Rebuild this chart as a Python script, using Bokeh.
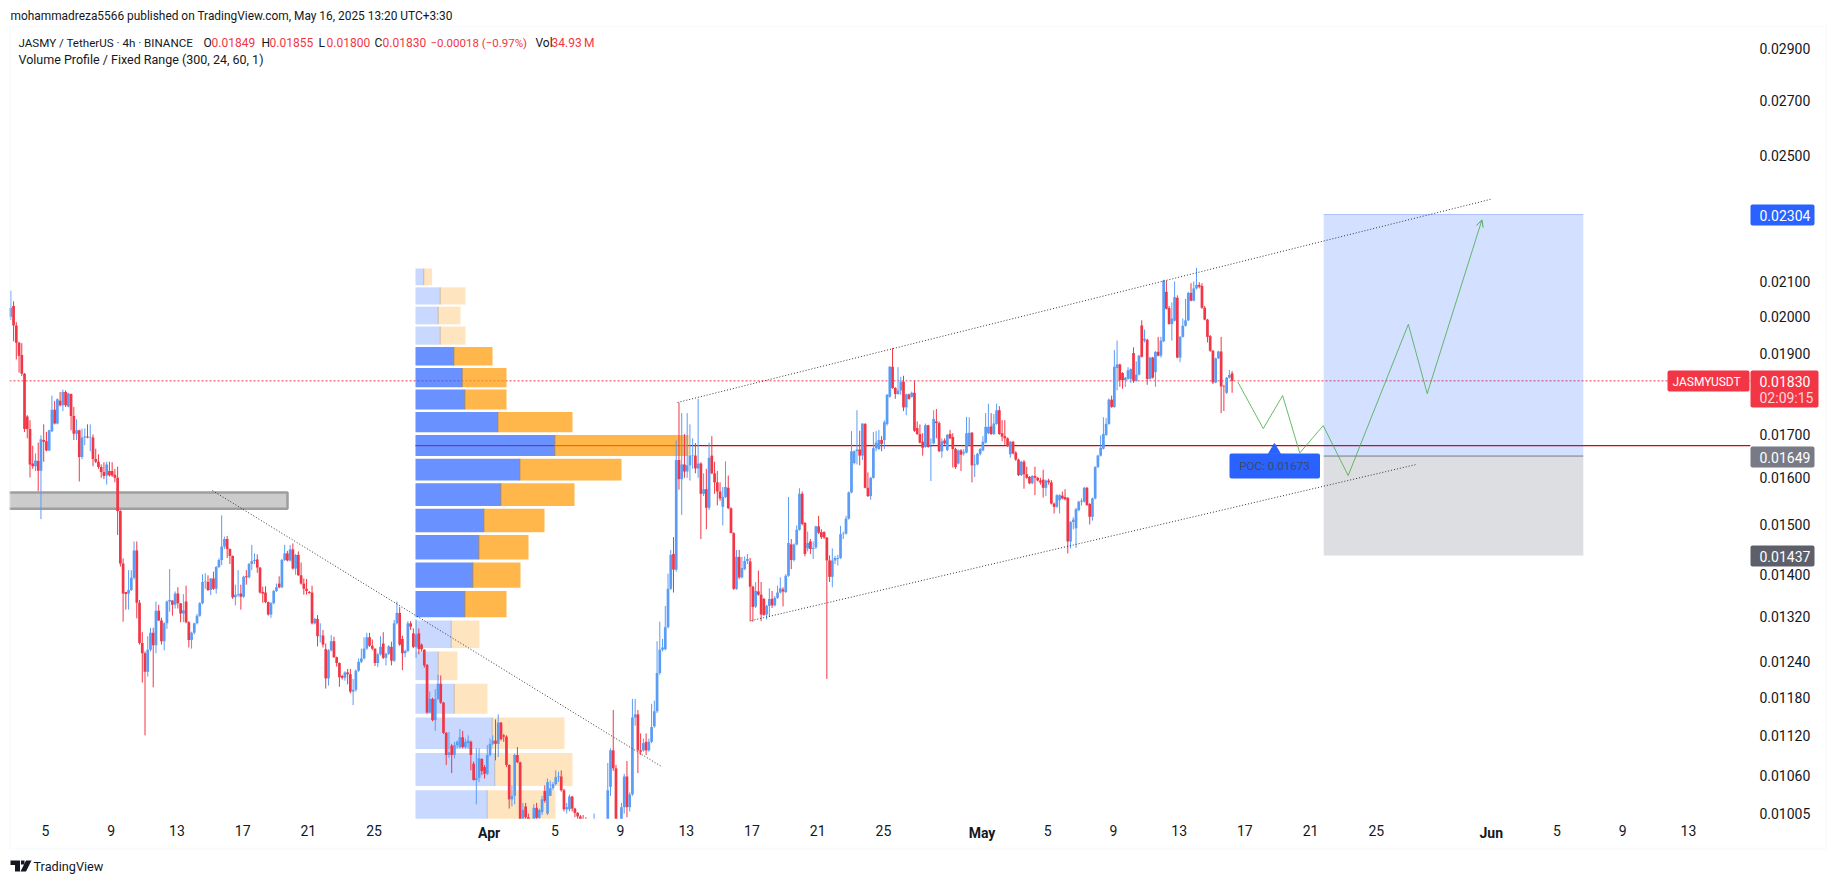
import numpy as np
from bokeh.embed import file_html
from bokeh.resources import INLINE
from bokeh.plotting import figure
from bokeh.models import (Arrow, BoxAnnotation, FixedTicker, Label, OpenHead, PolyAnnotation,
                          PrintfTickFormatter, Range1d)

# candles, 4h bars, prices in 1e-5 USDT
opens = [
    2000, 2030, 1976, 1929, 1897, 1848, 1742, 1712, 1632, 1626,
    1638, 1616, 1686, 1683, 1662, 1706, 1758, 1725, 1780, 1769,
    1802, 1766, 1797, 1743, 1701, 1709, 1647, 1692, 1694, 1692,
    1692, 1642, 1636, 1624, 1613, 1605, 1615, 1615, 1607, 1600,
    1528, 1421, 1366, 1363, 1370, 1393, 1447, 1346, 1273, 1255,
    1223, 1261, 1291, 1269, 1331, 1313, 1276, 1308, 1348, 1350,
    1342, 1363, 1345, 1326, 1348, 1310, 1278, 1291, 1308, 1322,
    1345, 1385, 1385, 1370, 1392, 1372, 1414, 1428, 1455, 1470,
    1450, 1436, 1356, 1361, 1363, 1357, 1396, 1394, 1420, 1426,
    1429, 1413, 1366, 1365, 1347, 1324, 1345, 1368, 1382, 1375,
    1428, 1441, 1427, 1449, 1411, 1438, 1398, 1382, 1372, 1366,
    1365, 1308, 1316, 1285, 1286, 1262, 1212, 1260, 1276, 1248,
    1238, 1216, 1213, 1222, 1219, 1190, 1193, 1225, 1240, 1246,
    1263, 1283, 1268, 1263, 1238, 1253, 1272, 1247, 1254, 1266,
    1242, 1308, 1327, 1280, 1255, 1259, 1308, 1290, 1266, 1290,
    1270, 1261, 1235, 1156, 1178, 1144, 1178, 1203, 1172, 1124,
    1090, 1104, 1090, 1105, 1102, 1117, 1102, 1108, 1110, 1077,
    1053, 1056, 1084, 1072, 1062, 1090, 1107, 1112, 1107, 1140,
    1120, 1118, 1075, 1025, 1030, 1090, 1079, 985, 1015, 1000,
    990, 995, 1013, 999, 1007, 1037, 1005, 1030, 1041, 1047,
    1057, 1058, 1038, 1011, 1011, 1029, 1012, 1006, 1001, 990,
    985, 970, 950, 930, 975, 950, 965, 940, 980, 1043,
    1097, 1070, 960, 980, 1014, 1058, 1014, 1032, 1148, 1153,
    1097, 1097, 1110, 1097, 1110, 1134, 1158, 1221, 1261, 1262,
    1301, 1372, 1440, 1409, 1640, 1597, 1630, 1614, 1628, 1650,
    1650, 1621, 1632, 1565, 1575, 1535, 1650, 1610, 1590, 1570,
    1537, 1558, 1578, 1534, 1482, 1372, 1434, 1394, 1410, 1426,
    1425, 1376, 1339, 1367, 1361, 1353, 1324, 1340, 1353, 1341,
    1355, 1365, 1371, 1366, 1397, 1459, 1428, 1459, 1489, 1565,
    1503, 1451, 1465, 1450, 1453, 1496, 1484, 1484, 1473, 1427,
    1395, 1427, 1430, 1432, 1480, 1481, 1512, 1568, 1633, 1660,
    1664, 1650, 1724, 1578, 1560, 1600, 1667, 1665, 1686, 1686,
    1724, 1790, 1866, 1812, 1797, 1806, 1828, 1764, 1796, 1790,
    1800, 1714, 1700, 1682, 1670, 1721, 1670, 1678, 1730, 1726,
    1660, 1685, 1663, 1700, 1693, 1665, 1632, 1662, 1655, 1657,
    1675, 1703, 1628, 1630, 1654, 1662, 1680, 1702, 1718, 1700,
    1724, 1757, 1702, 1695, 1690, 1653, 1682, 1657, 1641, 1606,
    1636, 1608, 1602, 1588, 1604, 1600, 1594, 1596, 1578, 1594,
    1590, 1544, 1537, 1551, 1561, 1558, 1556, 1465, 1505, 1492,
    1530, 1548, 1548, 1578, 1543, 1516, 1555, 1624, 1650, 1666,
    1698, 1724, 1783, 1765, 1863, 1872, 1850, 1832, 1835, 1835,
    1902, 1830, 1846, 1976, 1935, 1937, 1835, 1890, 1852, 1905,
    1895, 1933, 2070, 2024, 1980, 1989, 2053, 1890, 1945, 1975,
    1990, 2067, 2045, 2080, 2090, 2087, 2025, 1992, 1947, 1908,
    1826, 1888, 1906, 1816, 1800, 1838, 1849,
]
closes = [
    2025, 1976, 1929, 1895, 1848, 1712, 1712, 1630, 1626, 1639,
    1616, 1688, 1682, 1662, 1709, 1758, 1725, 1784, 1769, 1802,
    1769, 1798, 1743, 1701, 1709, 1647, 1692, 1694, 1692, 1693,
    1642, 1636, 1624, 1613, 1604, 1630, 1606, 1605, 1600, 1528,
    1421, 1363, 1362, 1370, 1393, 1447, 1346, 1273, 1255, 1223,
    1261, 1291, 1269, 1331, 1313, 1276, 1308, 1348, 1351, 1342,
    1363, 1345, 1326, 1332, 1310, 1278, 1291, 1308, 1322, 1345,
    1385, 1386, 1370, 1392, 1372, 1414, 1428, 1455, 1470, 1450,
    1436, 1356, 1361, 1362, 1357, 1395, 1394, 1420, 1426, 1428,
    1413, 1365, 1363, 1347, 1324, 1345, 1368, 1375, 1375, 1428,
    1441, 1427, 1449, 1411, 1438, 1398, 1382, 1372, 1368, 1364,
    1308, 1316, 1285, 1286, 1270, 1212, 1260, 1276, 1248, 1238,
    1214, 1213, 1222, 1219, 1190, 1193, 1225, 1240, 1246, 1263,
    1283, 1268, 1263, 1238, 1253, 1266, 1247, 1254, 1267, 1242,
    1308, 1327, 1270, 1255, 1259, 1308, 1302, 1266, 1288, 1262,
    1262, 1234, 1156, 1178, 1144, 1178, 1203, 1172, 1124, 1090,
    1094, 1090, 1105, 1110, 1117, 1102, 1110, 1112, 1090, 1053,
    1056, 1085, 1066, 1062, 1090, 1107, 1112, 1107, 1140, 1114,
    1118, 1075, 1025, 1030, 1090, 1079, 985, 1010, 1000, 990,
    975, 1013, 999, 1010, 1025, 1023, 1050, 1041, 1047, 1057,
    1058, 1038, 1011, 1014, 1029, 1012, 1006, 1001, 990, 985,
    970, 950, 930, 975, 950, 965, 940, 980, 1038, 1097,
    1070, 960, 980, 1014, 1058, 1014, 1032, 1148, 1153, 1097,
    1095, 1108, 1097, 1110, 1133, 1158, 1221, 1261, 1265, 1301,
    1372, 1438, 1409, 1640, 1597, 1630, 1614, 1628, 1650, 1651,
    1621, 1632, 1565, 1575, 1535, 1645, 1610, 1590, 1570, 1555,
    1558, 1580, 1534, 1482, 1372, 1434, 1394, 1412, 1426, 1430,
    1376, 1338, 1368, 1361, 1324, 1323, 1340, 1353, 1341, 1355,
    1365, 1373, 1367, 1397, 1462, 1428, 1459, 1489, 1565, 1501,
    1440, 1462, 1450, 1452, 1496, 1483, 1474, 1473, 1427, 1395,
    1427, 1432, 1432, 1480, 1481, 1512, 1568, 1660, 1660, 1664,
    1650, 1725, 1578, 1560, 1600, 1667, 1680, 1686, 1677, 1728,
    1795, 1866, 1812, 1797, 1806, 1828, 1764, 1796, 1785, 1800,
    1708, 1700, 1680, 1668, 1721, 1670, 1672, 1736, 1726, 1660,
    1683, 1678, 1698, 1690, 1665, 1624, 1662, 1652, 1658, 1702,
    1703, 1628, 1630, 1654, 1665, 1682, 1717, 1717, 1700, 1725,
    1757, 1700, 1694, 1690, 1672, 1682, 1655, 1641, 1606, 1636,
    1608, 1600, 1588, 1604, 1600, 1594, 1590, 1578, 1594, 1590,
    1544, 1537, 1562, 1562, 1555, 1553, 1465, 1505, 1510, 1532,
    1548, 1550, 1578, 1541, 1516, 1555, 1624, 1650, 1668, 1700,
    1724, 1783, 1765, 1866, 1872, 1832, 1832, 1838, 1857, 1860,
    1830, 1846, 1895, 1892, 1940, 1835, 1890, 1838, 1905, 1895,
    1935, 2103, 2022, 1980, 1995, 2055, 1890, 1945, 1975, 1990,
    2067, 2045, 2080, 2090, 2085, 2025, 1992, 1945, 1908, 1826,
    1888, 1906, 1816, 1815, 1838, 1845, 1830,
]
highs = [
    2073, 2043, 1985, 1932, 1928, 1850, 1745, 1733, 1673, 1655,
    1680, 1697, 1723, 1705, 1710, 1793, 1780, 1786, 1802, 1808,
    1806, 1800, 1798, 1765, 1735, 1710, 1713, 1713, 1723, 1723,
    1699, 1666, 1653, 1630, 1635, 1636, 1636, 1635, 1620, 1625,
    1530, 1431, 1366, 1408, 1408, 1465, 1465, 1351, 1292, 1258,
    1285, 1300, 1300, 1348, 1342, 1318, 1310, 1350, 1410, 1350,
    1367, 1375, 1345, 1362, 1378, 1312, 1293, 1309, 1325, 1347,
    1400, 1402, 1398, 1393, 1405, 1416, 1431, 1519, 1475, 1476,
    1451, 1437, 1380, 1408, 1380, 1397, 1408, 1422, 1458, 1441,
    1439, 1414, 1376, 1377, 1348, 1347, 1370, 1382, 1396, 1430,
    1458, 1446, 1458, 1461, 1440, 1445, 1423, 1392, 1391, 1368,
    1378, 1318, 1323, 1308, 1296, 1272, 1262, 1287, 1284, 1249,
    1239, 1218, 1224, 1228, 1228, 1211, 1227, 1246, 1263, 1283,
    1291, 1291, 1279, 1263, 1255, 1285, 1292, 1256, 1269, 1275,
    1314, 1348, 1338, 1286, 1261, 1312, 1312, 1299, 1315, 1299,
    1272, 1262, 1236, 1190, 1180, 1194, 1218, 1217, 1173, 1125,
    1125, 1107, 1110, 1112, 1130, 1127, 1115, 1120, 1112, 1080,
    1100, 1100, 1085, 1075, 1105, 1115, 1120, 1145, 1153, 1141,
    1122, 1120, 1076, 1045, 1092, 1102, 1080, 1020, 1020, 1005,
    995, 1018, 1020, 1012, 1030, 1045, 1055, 1052, 1050, 1067,
    1065, 1067, 1040, 1020, 1032, 1030, 1013, 1007, 1003, 1003,
    1000, 985, 975, 1005, 985, 990, 985, 992, 1078, 1100,
    1160, 1075, 990, 1020, 1062, 1081, 1035, 1178, 1178, 1160,
    1123, 1115, 1123, 1115, 1170, 1175, 1276, 1311, 1280, 1340,
    1401, 1448, 1474, 1685, 1776, 1750, 1700, 1750, 1723, 1690,
    1679, 1785, 1635, 1610, 1620, 1680, 1695, 1636, 1615, 1590,
    1580, 1637, 1605, 1536, 1484, 1448, 1448, 1434, 1435, 1440,
    1432, 1378, 1385, 1407, 1385, 1355, 1342, 1373, 1368, 1358,
    1378, 1394, 1375, 1400, 1558, 1470, 1461, 1498, 1577, 1570,
    1505, 1485, 1470, 1465, 1497, 1518, 1490, 1486, 1474, 1437,
    1451, 1436, 1438, 1497, 1485, 1518, 1570, 1707, 1662, 1757,
    1708, 1725, 1726, 1612, 1602, 1705, 1707, 1710, 1695, 1733,
    1797, 1868, 1915, 1814, 1865, 1840, 1843, 1798, 1798, 1803,
    1830, 1730, 1723, 1702, 1725, 1722, 1690, 1757, 1760, 1730,
    1690, 1690, 1700, 1710, 1702, 1668, 1664, 1665, 1665, 1741,
    1740, 1705, 1652, 1656, 1668, 1695, 1750, 1773, 1750, 1748,
    1773, 1767, 1733, 1733, 1692, 1684, 1684, 1660, 1643, 1638,
    1640, 1625, 1604, 1606, 1625, 1602, 1600, 1618, 1596, 1598,
    1595, 1546, 1564, 1564, 1570, 1575, 1558, 1507, 1515, 1535,
    1550, 1555, 1580, 1580, 1545, 1557, 1626, 1652, 1697, 1740,
    1738, 1786, 1793, 1910, 1935, 1874, 1852, 1840, 1865, 1862,
    1917, 1880, 1897, 1990, 1965, 1940, 1892, 1892, 1907, 1945,
    1945, 2105, 2103, 2030, 2040, 2100, 2060, 1947, 1995, 2050,
    2070, 2095, 2100, 2140, 2098, 2095, 2030, 1994, 1950, 1910,
    1890, 1908, 1945, 1820, 1840, 1858, 1855,
]
lows = [
    1991, 1933, 1885, 1851, 1842, 1705, 1690, 1601, 1620, 1615,
    1571, 1511, 1636, 1660, 1660, 1706, 1723, 1723, 1766, 1755,
    1765, 1764, 1709, 1686, 1686, 1592, 1642, 1674, 1690, 1660,
    1626, 1633, 1620, 1600, 1597, 1585, 1603, 1602, 1590, 1478,
    1415, 1311, 1333, 1333, 1368, 1390, 1317, 1270, 1205, 1120,
    1215, 1258, 1197, 1255, 1312, 1270, 1260, 1298, 1329, 1322,
    1335, 1335, 1310, 1310, 1308, 1265, 1263, 1288, 1306, 1320,
    1343, 1372, 1368, 1360, 1370, 1363, 1412, 1418, 1450, 1432,
    1420, 1353, 1341, 1357, 1333, 1355, 1380, 1392, 1408, 1420,
    1403, 1363, 1346, 1345, 1322, 1318, 1343, 1366, 1373, 1373,
    1426, 1425, 1425, 1409, 1399, 1397, 1380, 1361, 1361, 1363,
    1306, 1306, 1267, 1274, 1265, 1195, 1200, 1258, 1247, 1232,
    1198, 1210, 1208, 1202, 1187, 1168, 1190, 1223, 1238, 1244,
    1261, 1266, 1260, 1233, 1231, 1251, 1245, 1234, 1252, 1234,
    1240, 1306, 1268, 1226, 1248, 1257, 1296, 1264, 1247, 1253,
    1258, 1230, 1154, 1155, 1142, 1127, 1176, 1170, 1122, 1075,
    1086, 1063, 1085, 1100, 1100, 1100, 1100, 1100, 1067, 1052,
    1018, 1050, 1060, 1055, 1060, 1088, 1105, 1082, 1087, 1112,
    1110, 1072, 1012, 1015, 1018, 1078, 960, 980, 990, 975,
    965, 990, 985, 995, 1003, 1020, 1003, 1030, 1038, 1045,
    1050, 1036, 1008, 1005, 1008, 1008, 1000, 995, 985, 960,
    940, 930, 910, 920, 930, 945, 920, 930, 970, 1030,
    1066, 950, 940, 975, 1005, 1000, 1008, 1030, 1135, 1063,
    1090, 1095, 1090, 1095, 1108, 1132, 1155, 1218, 1258, 1260,
    1299, 1370, 1365, 1405, 1574, 1520, 1600, 1600, 1594, 1620,
    1610, 1600, 1470, 1560, 1490, 1530, 1608, 1565, 1540, 1550,
    1498, 1556, 1532, 1483, 1370, 1370, 1391, 1392, 1408, 1420,
    1311, 1311, 1336, 1359, 1312, 1322, 1315, 1320, 1336, 1339,
    1353, 1363, 1339, 1364, 1395, 1410, 1425, 1457, 1487, 1498,
    1435, 1445, 1440, 1430, 1450, 1480, 1470, 1470, 1211, 1385,
    1375, 1420, 1417, 1430, 1470, 1479, 1510, 1566, 1630, 1630,
    1628, 1640, 1577, 1558, 1552, 1598, 1660, 1663, 1660, 1665,
    1720, 1788, 1810, 1785, 1795, 1795, 1755, 1745, 1783, 1788,
    1705, 1698, 1678, 1650, 1668, 1668, 1593, 1676, 1690, 1658,
    1645, 1675, 1660, 1688, 1623, 1620, 1630, 1615, 1650, 1655,
    1673, 1590, 1602, 1628, 1650, 1660, 1678, 1700, 1698, 1698,
    1722, 1698, 1683, 1675, 1670, 1645, 1653, 1638, 1604, 1604,
    1576, 1598, 1586, 1586, 1562, 1592, 1585, 1557, 1560, 1585,
    1542, 1523, 1535, 1523, 1553, 1551, 1441, 1451, 1490, 1452,
    1528, 1540, 1546, 1539, 1500, 1508, 1553, 1622, 1648, 1664,
    1696, 1722, 1763, 1763, 1806, 1815, 1810, 1815, 1833, 1825,
    1825, 1828, 1844, 1890, 1930, 1820, 1833, 1836, 1815, 1893,
    1890, 1931, 2020, 1978, 1935, 1987, 1888, 1878, 1943, 1973,
    1988, 2043, 2043, 2077, 2080, 2022, 1990, 1930, 1905, 1822,
    1824, 1886, 1750, 1755, 1797, 1836, 1800,
]

# volume profile rows, price edges in 1e-5 USDT, volumes in px-like units
vp_top = [2138, 2083, 2028, 1973, 1918, 1863, 1808, 1753, 1698, 1643, 1588,
          1533, 1478, 1423, 1368, 1313, 1258, 1203, 1148, 1093, 1038]
vp_bottom = [2089, 2034, 1979, 1924, 1869, 1814, 1759, 1704, 1649, 1594, 1539,
             1484, 1429, 1374, 1319, 1264, 1209, 1154, 1099, 1044, 989]
vp_up = [8.3, 24.7, 22.7, 24.7, 38.3, 46.7, 49.3, 82.3, 139.3, 104.3, 85.3,
         68.3, 63.3, 57.3, 49.3, 35.7, 22.7, 38.7, 76.7, 79.3, 71.7]
vp_down = [8.3, 25.3, 22.3, 25.3, 38.7, 44.3, 41.7, 74.7, 133.7, 101.7, 73.7,
           60.7, 49.7, 47.7, 41.7, 28.3, 19.3, 33.3, 72.3, 77.7, 68.3]
vp_in_value_area = [0, 0, 0, 0, 1, 1, 1, 1, 1, 1, 1, 1, 1, 1, 1, 0, 0, 0, 0, 0, 0]

# x axis is days counted from Mar 0, so Apr 1 = 32, May 1 = 62, Jun 1 = 93
tick_days = [5, 9, 13, 17, 21, 25, 36, 40, 44, 48, 52, 56, 66, 70, 74, 78, 82, 86, 97, 101, 105]
tick_labels = ["5", "9", "13", "17", "21", "25", "5", "9", "13", "17", "21", "25",
               "5", "9", "13", "17", "21", "25", "5", "9", "13"]
month_days = [32, 62, 93]
month_labels = ["Apr", "May", "Jun"]
price_ticks = [0.029, 0.027, 0.025, 0.021, 0.020, 0.019, 0.017, 0.016, 0.015, 0.014,
               0.0132, 0.0124, 0.0118, 0.0112, 0.0106, 0.01005]

last_price = 0.0183
poc_price = 0.01673
target_price = 0.02304
entry_price = 0.01649
stop_price = 0.01437

# drawings: (days, prices)
upper_x, upper_y = [43.47, 92.95], [0.01776, 0.02353]
lower_x, lower_y = [47.97, 88.45], [0.01313, 0.0163]
down_x, down_y = [15.16, 42.49], [0.01572, 0.010727]
path_x = [77.57, 79.12, 80.30, 81.34, 82.77, 84.29, 87.95, 89.10, 92.43]
path_y = [0.01827, 0.01713, 0.01793, 0.01656, 0.0172, 0.01605, 0.01979, 0.01798, 0.02287]

UP = "#5b9cf6"
DOWN = "#f23645"
TEXT = "#131722"
FONT = "Roboto"

# the frame fills the whole canvas so that labels outside the price pane are not clipped,
# the axes are pinned at the right and bottom edge of the pane
PANE_LEFT_DAY, PANE_RIGHT_DAY = 2.81, 108.77
PANE_BOTTOM_PRICE = 0.00998

bar_x = 2.89 + np.arange(len(closes)) / 6
o = np.array(opens) / 1e5
c = np.array(closes) / 1e5
h = np.array(highs) / 1e5
l = np.array(lows) / 1e5
bar_colors = [UP if b >= a else DOWN for a, b in zip(opens, closes)]

p = figure(width=1835, height=884, y_axis_type="log", y_axis_location="right",
           x_range=Range1d(2.261, 113.95), y_range=Range1d(0.00911, 0.03099),
           output_backend="svg", toolbar_location=None, tools="",
           min_border_left=0, min_border_right=0, min_border_top=0, min_border_bottom=0)
p.extra_x_ranges = {"vol": Range1d(-415, 1420)}
p.grid.visible = False
p.outline_line_color = None

p.xaxis.fixed_location = PANE_BOTTOM_PRICE
p.yaxis.fixed_location = PANE_RIGHT_DAY
p.xaxis.ticker = FixedTicker(ticks=tick_days)
p.xaxis.major_label_overrides = dict(zip(tick_days, tick_labels))
p.yaxis.ticker = FixedTicker(ticks=price_ticks)
p.yaxis.formatter = PrintfTickFormatter(format="%.5f")
for ax in (p.xaxis, p.yaxis):
    ax.axis_line_color = None
    ax.major_tick_line_color = None
    ax.minor_tick_line_color = None
    ax.major_label_text_font = FONT
    ax.major_label_text_font_size = "14px"
    ax.major_label_text_color = TEXT
p.xaxis.major_label_standoff = 0
p.yaxis.major_label_standoff = 3

# lines under the profile, its transparency tints them
p.line([27.52, PANE_RIGHT_DAY], [poc_price, poc_price], color="#e00000", line_width=1.3)
p.line([PANE_LEFT_DAY, PANE_RIGHT_DAY], [last_price, last_price], color=DOWN, line_width=1, line_dash=[2, 2])

# grey zone on the left, open towards the pane edge
p.quad(left=PANE_LEFT_DAY, right=19.73, bottom=0.01533, top=0.01568, fill_color="#cccccc", line_color=None)
p.line([PANE_LEFT_DAY, 19.73, 19.73, PANE_LEFT_DAY], [0.01568, 0.01568, 0.01533, 0.01533],
       color="#9e9e9e", line_width=2.5)

# long position box
p.quad(left=82.8, right=98.6, bottom=entry_price, top=target_price, fill_color="#2962ff",
       fill_alpha=0.2, line_color=None)
p.quad(left=82.8, right=98.6, bottom=stop_price, top=entry_price, fill_color="#787b86",
       fill_alpha=0.25, line_color=None)
p.line([82.8, 98.6], [target_price, target_price], color="#a9c1ff", line_width=1)
p.line([82.8, 98.6], [entry_price, entry_price], color="#787b86", line_width=1)

# volume profile
vp_b = np.array(vp_bottom) / 1e5
vp_t = np.array(vp_top) / 1e5
vp_u = np.array(vp_up)
vp_total = vp_u + np.array(vp_down)
vp_alpha = [0.7 if v else 0.25 for v in vp_in_value_area]
p.quad(left=0, right=vp_u, bottom=vp_b, top=vp_t, x_range_name="vol",
       fill_color="#2962ff", fill_alpha=vp_alpha, line_color=None)
p.quad(left=vp_u, right=vp_total, bottom=vp_b, top=vp_t, x_range_name="vol",
       fill_color="#ff9800", fill_alpha=vp_alpha, line_color=None)
p.segment(vp_u, vp_b, vp_u, vp_t, x_range_name="vol", color="#8a7a70",
          line_alpha=[0.8 if v else 0.35 for v in vp_in_value_area], line_width=1)

# candles
p.segment(bar_x, l, bar_x, h, color=bar_colors, line_width=1)
p.vbar(bar_x, 0.165, np.minimum(o, c), np.maximum(o, c), fill_color=bar_colors, line_color=None)

# white cover under the pane, stands in for the pane clipping of the low candles
p.quad(left=2.261, right=113.95, bottom=0.00911, top=PANE_BOTTOM_PRICE, fill_color="#ffffff", line_color=None)

# drawings
for xs, ys in ((upper_x, upper_y), (lower_x, lower_y), (down_x, down_y)):
    p.line(xs, ys, color="#333333", line_width=1, line_dash=[1, 2])
p.line(path_x[:-1], path_y[:-1], color="#4caf50", line_width=1, line_alpha=0.85)
p.add_layout(Arrow(end=OpenHead(size=7, line_color="#4caf50", line_width=1), line_color="#4caf50",
                   line_width=1, line_alpha=0.85, x_start=path_x[-2], y_start=path_y[-2],
                   x_end=path_x[-1], y_end=path_y[-1]))


def text_at(x, y, txt, color=TEXT, size="12.5px", style="normal", align="left"):
    p.add_layout(Label(x=x, y=y, x_units="canvas", y_units="canvas", text=txt,
                       text_color=color, text_font=FONT, text_font_size=size, text_font_style=style,
                       text_align=align, text_baseline="middle"))


def box_at(x0, x1, y0, y1, color):
    p.add_layout(BoxAnnotation(left=x0, right=x1, top=y0, bottom=y1,
                               left_units="canvas", right_units="canvas", top_units="canvas",
                               bottom_units="canvas", fill_color=color, fill_alpha=1,
                               line_color=None, border_radius=2))


# frame around the chart
p.add_layout(BoxAnnotation(left=9.5, right=1825.5, top=26, bottom=848, left_units="canvas",
                           right_units="canvas", top_units="canvas", bottom_units="canvas",
                           fill_alpha=0, line_color="#f0f3fa", line_width=2))

for d, m in zip(month_days, month_labels):
    p.add_layout(Label(x=d, y=832, y_units="canvas", text=m, text_color=TEXT, text_font=FONT,
                       text_font_size="14px", text_font_style="bold", text_align="center",
                       text_baseline="middle"))

# header
text_at(10, 15, "mohammadreza5566 published on TradingView.com, May 16, 2025 13:20 UTC+3:30", size="11.9px")
text_at(18, 42, "JASMY / TetherUS \u00b7 4h \u00b7 BINANCE", size="11.6px")
for x, label, value in ((203, "O", "0.01849"), (261, "H", "0.01855"), (318, "L", "0.01800"), (374, "C", "0.01830")):
    text_at(x, 42, label, size="12px")
    text_at(x + 8, 42, value, color=DOWN, size="12px")
text_at(430, 42, "\u22120.00018 (\u22120.97%)", color=DOWN, size="11.5px")
text_at(535, 42, "Vol", size="12px")
text_at(551, 42, "34.93\u2009M", color=DOWN, size="12px")
text_at(18, 59, "Volume Profile / Fixed Range (300, 24, 60, 1)")

# price scale tags
box_at(1750, 1814, 204, 225, "#2962ff")
text_at(1759, 215, "0.02304", color="#ffffff", size="14px")
box_at(1667, 1749, 370, 391, DOWN)
text_at(1672, 381, "JASMYUSDT", color="#ffffff", size="12px")
box_at(1750, 1818, 370, 407, DOWN)
text_at(1759, 381, "0.01830", color="#ffffff", size="14px")
text_at(1759, 397, "02:09:15", color="#fcd5d8", size="14px")
box_at(1750, 1814, 446, 467, "#787b86")
text_at(1759, 457, "0.01649", color="#ffffff", size="14px")
box_at(1750, 1814, 545, 566, "#5d606b")
text_at(1759, 556, "0.01437", color="#ffffff", size="14px")

# POC tag
p.scatter([79.8], [0.01662], marker="triangle", size=12, color="#2962ff")
box_at(1229, 1319.5, 453, 478, "#2962ff")
text_at(1274, 465.5, "POC: 0.01673", color="#3c4a63", size="11.6px", align="center")

# TradingView mark
logo_polys = [([10, 19.5, 19.5, 14.5, 14.5, 10], [860, 860, 871, 871, 864.5, 864.5]),
              ([25.5, 31, 25.5, 20], [860, 860, 871, 871]),
              ([20.5, 24, 24, 20.5], [860, 860, 864, 864])]
for xs, ys in logo_polys:
    p.add_layout(PolyAnnotation(xs=xs, ys=ys, xs_units="canvas", ys_units="canvas",
                                fill_color=TEXT, fill_alpha=1, line_color=None))
text_at(33, 866, "TradingView", size="12.7px")

open("out.html", "w").write(file_html(p, INLINE))
